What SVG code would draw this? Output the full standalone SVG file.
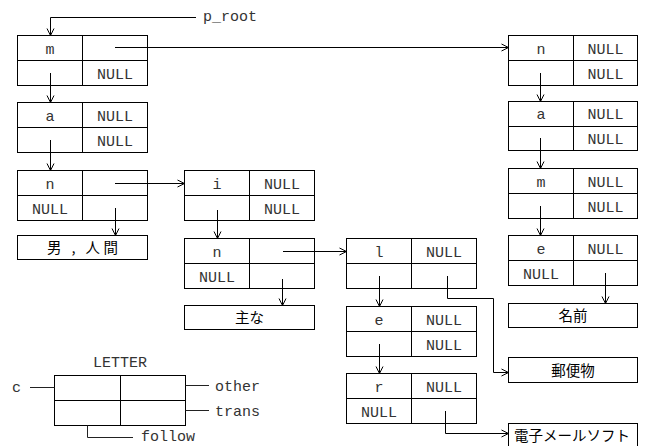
<svg xmlns="http://www.w3.org/2000/svg" width="647" height="446" viewBox="0 0 647 446">
<style>
.b{fill:#fff;stroke:#000;stroke-width:1}
.l{stroke:#000;stroke-width:1;fill:none}
.c{stroke:#222;stroke-width:1;fill:none}
.a{marker-end:url(#ah)}
.t{font-family:"Courier New","Liberation Mono",monospace;font-size:15px;fill:#333;text-anchor:middle}
.tl{font-family:"Courier New","Liberation Mono",monospace;font-size:15px;fill:#333}
.j{font-family:"Noto Sans CJK JP","Noto Sans CJK SC",sans-serif;font-size:14.5px;fill:#000;text-anchor:middle}
</style>
<defs>
<marker id="ah" viewBox="0 0 8 8" refX="7" refY="4" markerWidth="8" markerHeight="8" markerUnits="userSpaceOnUse" orient="auto" overflow="visible">
<path d="M0,0.5 L7,4 L0,7.5" fill="none" stroke="#000" stroke-width="1"/>
</marker>
</defs>
<rect width="647" height="446" fill="#fff"/>

<g id="node-m">
<rect class="b" x="17.5" y="35.5" width="130" height="50"/>
<path class="l" d="M82.5,35.5V85.5M17.5,60.5H147.5"/>
<text class="t" x="50" y="53.5">m</text>
<text class="t" x="115" y="78.5">NULL</text>
</g>
<g id="node-a">
<rect class="b" x="17.5" y="102.5" width="130" height="50"/>
<path class="l" d="M82.5,102.5V152.5M17.5,127.5H147.5"/>
<text class="t" x="50" y="120.5">a</text>
<text class="t" x="115" y="120.5">NULL</text>
<text class="t" x="115" y="145.5">NULL</text>
</g>
<g id="node-n1">
<rect class="b" x="17.5" y="170.5" width="130" height="50"/>
<path class="l" d="M82.5,170.5V220.5M17.5,195.5H147.5"/>
<text class="t" x="50" y="188.5">n</text>
<text class="t" x="50" y="213.5">NULL</text>
</g>
<g id="leaf-otoko">
<rect class="b" x="17.5" y="235.5" width="130" height="24"/>
<text class="j" x="82.5" y="253" textLength="71" lengthAdjust="spacing">男 , 人間</text>
</g>
<g id="node-i">
<rect class="b" x="184.5" y="170.5" width="130" height="50"/>
<path class="l" d="M249.5,170.5V220.5M184.5,195.5H314.5"/>
<text class="t" x="217" y="188.5">i</text>
<text class="t" x="282" y="188.5">NULL</text>
<text class="t" x="282" y="213.5">NULL</text>
</g>
<g id="node-n2">
<rect class="b" x="184.5" y="238.5" width="130" height="50"/>
<path class="l" d="M249.5,238.5V288.5M184.5,263.5H314.5"/>
<text class="t" x="217" y="256.5">n</text>
<text class="t" x="217" y="281.5">NULL</text>
</g>
<g id="leaf-omona">
<rect class="b" x="184.5" y="305.5" width="130" height="24"/>
<text class="j" x="249.5" y="323">主な</text>
</g>
<g id="node-l">
<rect class="b" x="346.5" y="238.5" width="130" height="50"/>
<path class="l" d="M411.5,238.5V288.5M346.5,263.5H476.5"/>
<text class="t" x="379" y="256.5">l</text>
<text class="t" x="444" y="256.5">NULL</text>
</g>
<g id="node-e1">
<rect class="b" x="346.5" y="306.5" width="130" height="50"/>
<path class="l" d="M411.5,306.5V356.5M346.5,331.5H476.5"/>
<text class="t" x="379" y="324.5">e</text>
<text class="t" x="444" y="324.5">NULL</text>
<text class="t" x="444" y="349.5">NULL</text>
</g>
<g id="node-r">
<rect class="b" x="346.5" y="373.5" width="130" height="50"/>
<path class="l" d="M411.5,373.5V423.5M346.5,398.5H476.5"/>
<text class="t" x="379" y="391.5">r</text>
<text class="t" x="444" y="391.5">NULL</text>
<text class="t" x="379" y="416.5">NULL</text>
</g>
<g id="node-n3">
<rect class="b" x="508.5" y="35.5" width="129" height="50"/>
<path class="l" d="M573.5,35.5V85.5M508.5,60.5H637.5"/>
<text class="t" x="541" y="53.5">n</text>
<text class="t" x="605.5" y="53.5">NULL</text>
<text class="t" x="605.5" y="78.5">NULL</text>
</g>
<g id="node-a2">
<rect class="b" x="508.5" y="101.5" width="129" height="49"/>
<path class="l" d="M573.5,101.5V150.5M508.5,126.5H637.5"/>
<text class="t" x="541" y="119">a</text>
<text class="t" x="605.5" y="119">NULL</text>
<text class="t" x="605.5" y="144">NULL</text>
</g>
<g id="node-m2">
<rect class="b" x="508.5" y="168.5" width="129" height="50"/>
<path class="l" d="M573.5,168.5V218.5M508.5,193.5H637.5"/>
<text class="t" x="541" y="186.5">m</text>
<text class="t" x="605.5" y="186.5">NULL</text>
<text class="t" x="605.5" y="211.5">NULL</text>
</g>
<g id="node-e2">
<rect class="b" x="508.5" y="235.5" width="129" height="50"/>
<path class="l" d="M573.5,235.5V285.5M508.5,260.5H637.5"/>
<text class="t" x="541" y="253.5">e</text>
<text class="t" x="605.5" y="253.5">NULL</text>
<text class="t" x="541" y="278.5">NULL</text>
</g>
<g id="leaf-namae">
<rect class="b" x="508.5" y="303.5" width="129" height="24"/>
<text class="j" x="573" y="321">名前</text>
</g>
<g id="leaf-yubinbutsu">
<rect class="b" x="508.5" y="357.5" width="129" height="25"/>
<text class="j" x="573" y="375.5">郵便物</text>
</g>
<g id="leaf-email">
<rect class="b" x="508.5" y="423.5" width="129" height="30"/>
<text class="j" x="572" y="441">電子メールソフト</text>
</g>

<g id="connectors">
<path class="l a" d="M196,17.5H50.5V35.5"/>
<path class="l a" d="M115,47.5H508.5"/>
<path class="l a" d="M50.5,73V102.5"/>
<path class="l a" d="M50.5,140V170.5"/>
<path class="l a" d="M115,183.5H184.5"/>
<path class="l a" d="M115.5,208V235.5"/>
<path class="l a" d="M217.5,210V238.5"/>
<path class="l a" d="M283,251.5H346.5"/>
<path class="l a" d="M282.5,279V305.5"/>
<path class="l a" d="M540.5,73V101.5"/>
<path class="l a" d="M540.5,138V168.5"/>
<path class="l a" d="M540.5,206V235.5"/>
<path class="l a" d="M605.5,273V303.5"/>
<path class="l a" d="M379.5,276V306.5"/>
<path class="l a" d="M379.5,344V373.5"/>
<path class="l a" d="M447.5,276V298.5H493.5V372.5H508.5"/>
<path class="l a" d="M445.5,411V433.5H508.5"/>
</g>
<text class="tl" x="203" y="21">p_root</text>

<g id="legend">
<rect class="b" x="54.5" y="375.5" width="131" height="50"/>
<path class="l" d="M120.5,375.5V425.5M54.5,400.5H185.5"/>
<text class="t" x="120" y="367">LETTER</text>
<path class="c" d="M30,387.5H54.5"/>
<text class="tl" x="12" y="392">c</text>
<path class="c" d="M185.5,385.5H209"/>
<text class="tl" x="215" y="391">other</text>
<path class="c" d="M185.5,410.5H209"/>
<text class="tl" x="215" y="416">trans</text>
<path class="c" d="M87.5,425.5V437.5H133"/>
<text class="tl" x="141" y="441">follow</text>
</g>
</svg>
